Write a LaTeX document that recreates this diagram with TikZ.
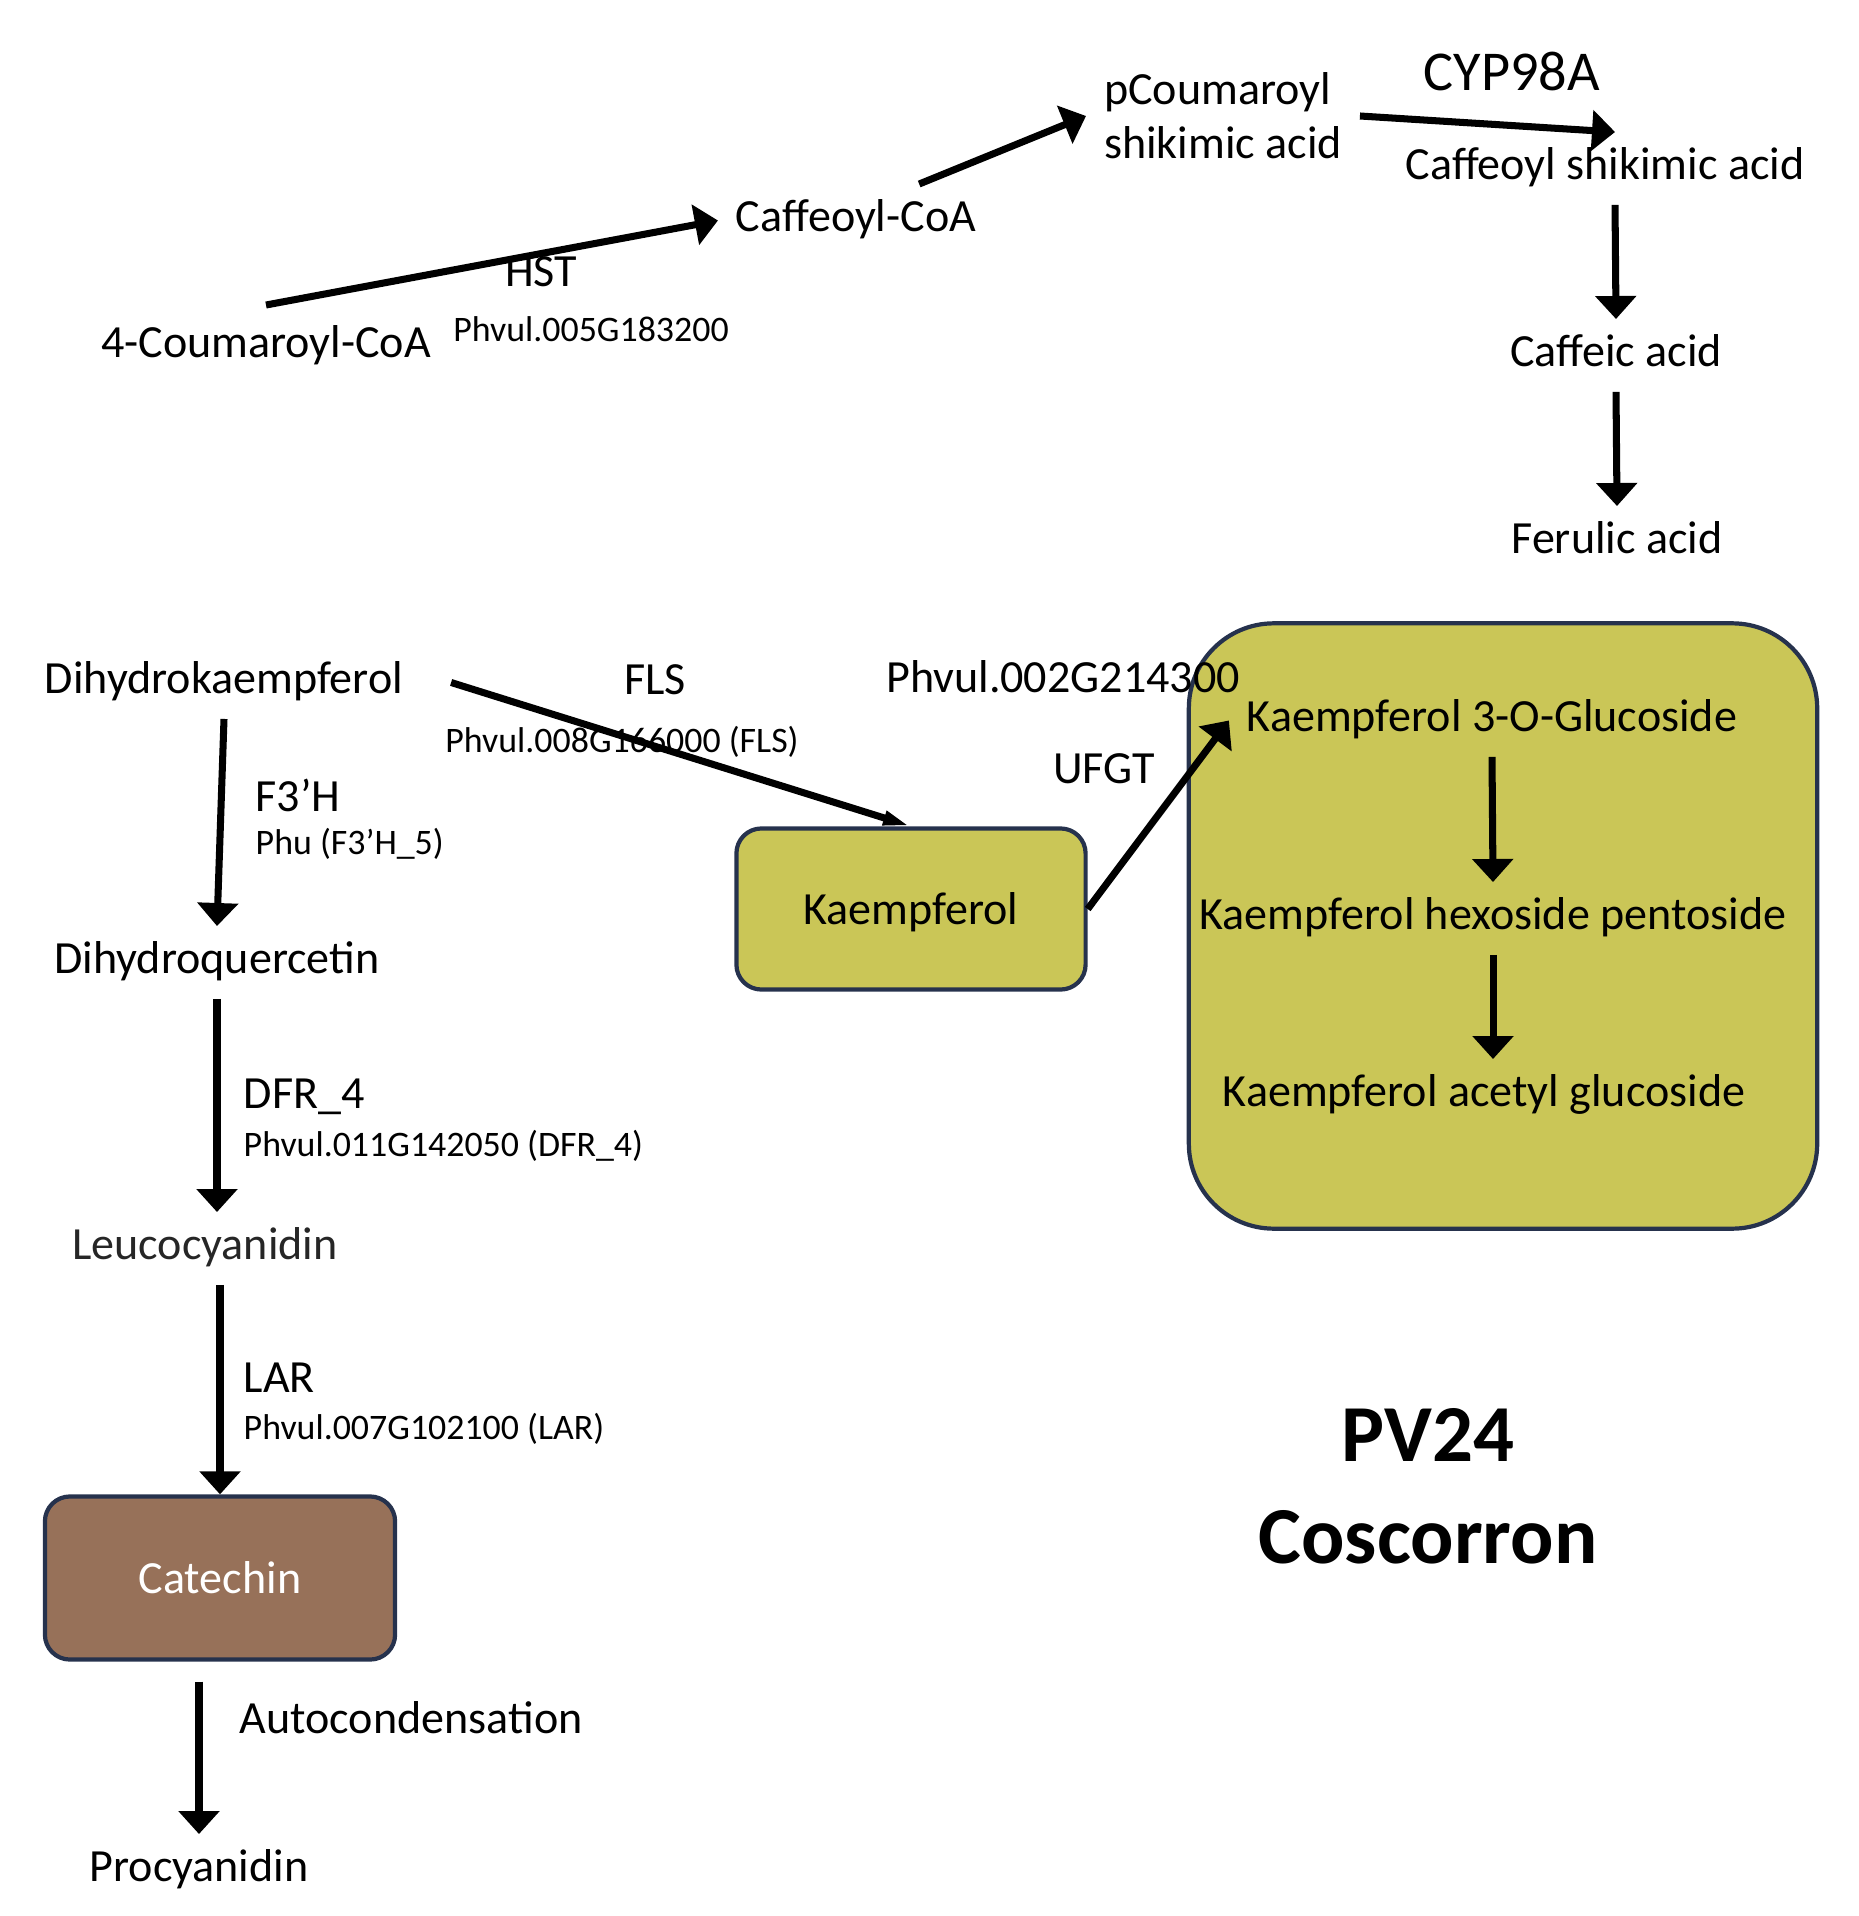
\documentclass[tikz,border=0pt]{standalone}
\usepackage{fontspec}
\setmainfont{Carlito}
\usepackage{tikz}
\usetikzlibrary{positioning,arrows.meta,calc}

\definecolor{kaemfill}{RGB}{202,198,87}
\definecolor{catfill}{RGB}{151,113,89}
\definecolor{boxline}{RGB}{38,50,77}

\begin{document}
\begin{tikzpicture}[
        x=0.01cm, y=-0.01cm,
        arr/.style={-{Triangle[width=4mm,length=2.3mm]}, line width=2pt},
        thinarr/.style={-{Triangle[width=1.3mm,length=2.8mm]}, line width=2pt},
        chem/.style={
            inner sep=0pt,
            outer sep=0.18cm,
            text height=0.85em,
            text depth=0.2em,
            yshift=-0.035cm,
            font=\fontsize{13.1}{15.4}\selectfont
        },
        enzyme/.style={
            inner sep=0pt,
            text height=0.7em,
            text depth=0.2em,
            yshift=-0.07cm,
            font=\fontsize{13.1}{15.4}\selectfont
        },
        gene/.style={
            inner sep=0pt,
            text height=0.7em,
            text depth=0.2em,
            yshift=-0.07cm,
            font=\fontsize{10.2}{12}\selectfont
        },
        metabox/.style={
            rectangle,
            rounded corners=0.25cm,
            draw=boxline,
            line width=1.2pt,
            inner sep=0pt,
            text height=0.9em,
            text depth=0em,
            font=\fontsize{13.1}{15.4}\selectfont
        }
    ]

    \useasboundingbox (0,0) rectangle (1858,1916);

    % glycoside box behind its metabolites
    \node[metabox, rounded corners=0.85cm, fill=kaemfill,
        minimum width=6.28cm, minimum height=6.05cm] (glyc) at (1503,926) {};

    % phenylpropanoid branch
    \node[chem] (coum) at (266,343) {4-Coumaroyl-CoA};
    \node[chem] (caffcoa) at (856,217) {Caffeoyl-CoA};
    \node[chem, align=left, text height=, text depth=, yshift=0.035cm, anchor=west] (pcoum) at (1086,116)
        {pCoumaroyl\\shikimic acid};
    \node[chem] (caffshik) at (1605,165) {Caffeoyl shikimic acid};
    \node[chem] (caffeic) at (1616,352) {Caffeic acid};
    \node[chem] (ferulic) at (1617,539) {Ferulic acid};

    % flavonoid branch
    \node[chem] (dhk) at (224,679) {Dihydrokaempferol};
    \node[chem] (dhq) at (217,959) {Dihydroquercetin};
    \node[chem, text=black!85] (leuco) at (205,1245) {Leucocyanidin};
    \node[metabox, fill=catfill, text=white, minimum width=3.5cm, minimum height=1.63cm] (cat) at (220,1578) {Catechin};
    \node[chem] (procy) at (199,1867) {Procyanidin};

    \node[metabox, fill=kaemfill, minimum width=3.49cm, minimum height=1.61cm] (kaem) at (911,909) {Kaempferol};
    \node[chem] (k3og) at (1492,717) {Kaempferol 3-O-Glucoside};
    \node[chem] (khp) at (1493,915) {Kaempferol hexoside pentoside};
    \node[chem] (kag) at (1484,1092) {Kaempferol acetyl glucoside};

    % enzymes and genes
    \node[enzyme] (hst) at (541,271) {HST};
    \node[gene] (hstgene) at (591,326) {Phvul.005G183200};
    \node[enzyme, font=\fontsize{16}{19}\selectfont] (cyp) at (1512,75) {CYP98A};
    \node[enzyme] (fls) at (655,679) {FLS};
    \node[gene] (flsgene) at (622,737) {Phvul.008G166000 (FLS)};
    \node[enzyme] (ufgtgene) at (1063,677) {Phvul.002G214300};
    \node[enzyme] (ufgt) at (1104,768) {UFGT};
    \node[enzyme, anchor=west] (f3h) at (255,796) {F3’H};
    \node[gene, anchor=west] (f3hgene) at (255,839) {Phu (F3’H\_5)};
    \node[enzyme, anchor=west] (dfr) at (243,1093) {DFR\_4};
    \node[gene, anchor=west] (dfrgene) at (243,1141) {Phvul.011G142050 (DFR\_4)};
    \node[enzyme, anchor=west] (lar) at (243,1377) {LAR};
    \node[gene, anchor=west] (largene) at (243,1424) {Phvul.007G102100 (LAR)};
    \node[enzyme, anchor=west] (autoc) at (239,1718) {Autocondensation};

    \node[align=center, font=\fontsize{23}{29}\selectfont\bfseries] (title) at (1428,1486) {PV24\\Coscorron};

    % arrows
    \draw[arr] ([yshift=0.05cm]coum.north) -- (caffcoa.west);
    \draw[arr] (caffcoa.30) -- (pcoum.west);
    \draw[arr] (pcoum.east) -- ([xshift=0.1cm]caffshik.north);
    \draw[arr] ([xshift=0.1cm]caffshik.south) -- (caffeic.north);
    \draw[arr] (caffeic.south) -- (ferulic.north);

    \draw[thinarr] ([xshift=0.3cm]dhk.east) -- (kaem.north);
    \draw[arr] (kaem.east) -- (k3og.west);
    \draw[arr] (k3og.south) -- (khp.north);
    \draw[arr] (khp.south) -- (khp.south |- kag.north);

    \draw[arr] (dhk.south) -- (dhq.north);
    \draw[arr] (dhq.south) -- (dhq.south |- leuco.north);
    \draw[arr] (cat.north |- leuco.south) -- (cat.north);
    \draw[arr] ([yshift=-0.2cm]procy.north |- cat.south) -- (procy.north);

\end{tikzpicture}
\end{document}
